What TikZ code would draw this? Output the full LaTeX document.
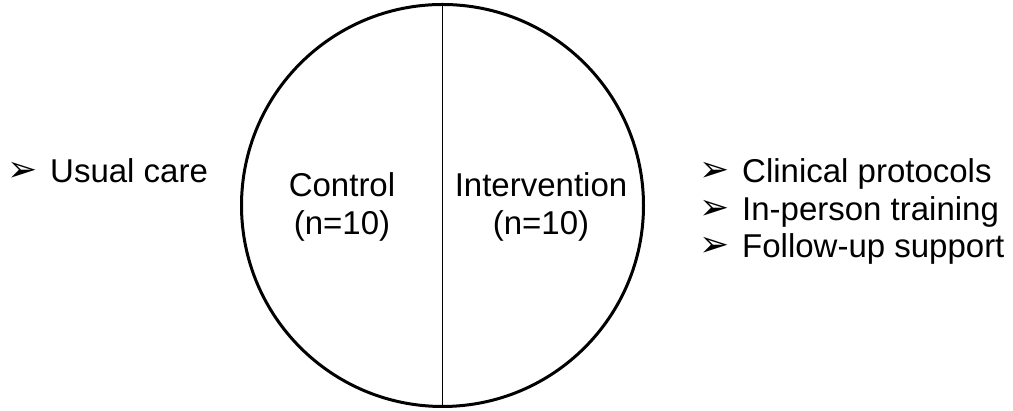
\documentclass[tikz,border=0pt]{standalone}
\usepackage{fontspec}
\setmainfont{Liberation Sans}
\newfontfamily\dingfont{DejaVu Sans}
\usetikzlibrary{positioning}
\newcommand{\bul}{\makebox[43pt][l]{\raisebox{1pt}{\dingfont\fontsize{36}{36}\selectfont ➢}}}

\begin{document}
\begin{tikzpicture}[x=1pt, y=1pt,
        group/.style={circle, draw, line width=3pt, inner sep=0pt, minimum size=402pt},
        arm/.style={font=\fontsize{33}{38}\selectfont, align=center},
        item/.style={font=\fontsize{33}{37}\selectfont, anchor=base west, inner sep=0pt}]
        \useasboundingbox (0,0) rectangle (1013,411);
        \node (trial) [group] at (442.5,205.5) {};
        \draw[line width=1.8pt] (trial.north) -- (trial.south);
        \node (control) [arm] at (342,204) {Control\\(n=10)};
        \node (intervention) [arm] at (541,204) {Intervention\\(n=10)};
        \node (usual) [item] at (7,228) {\bul Usual care};
        \node (protocols) [item] at (699,228) {\bul Clinical protocols};
        \node (training) [item] at (699,190) {\bul In-person training};
        \node (followup) [item] at (699,153) {\bul Follow-up support};
		\end{tikzpicture}
\end{document}
